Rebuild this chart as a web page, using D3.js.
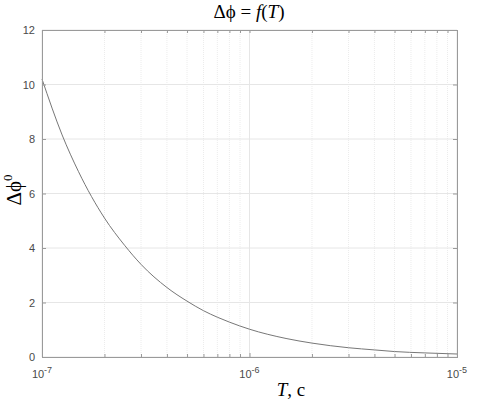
<!DOCTYPE html>
<html>
<head>
<meta charset="utf-8">
<script src="https://cdn.jsdelivr.net/npm/d3@7"></script>
<style>
  body { margin: 0; background: #fff; }
  .tick text { font-family: "Liberation Sans", Arial, sans-serif; font-size: 11px; fill: #4a4a4a; }
  .serif { font-family: "Liberation Serif", "Times New Roman", serif; fill: #000; }
</style>
</head>
<body>
<div id="chart"></div>
<script>
// data
var periods = [1e-7, 1.25e-7, 1.5e-7, 2e-7, 2.5e-7, 3e-7, 4e-7, 5e-7, 6e-7, 7e-7, 8e-7,
               1e-6, 1.5e-6, 2e-6, 3e-6, 4e-6, 5e-6, 7e-6, 1e-5];
var phaseShift = [10.2, 8.15, 6.8, 5.1, 4.1, 3.4, 2.55, 2.05, 1.7, 1.46, 1.28,
                  1.02, 0.68, 0.51, 0.34, 0.26, 0.2, 0.15, 0.11];
var yTicks = [0, 2, 4, 6, 8, 10, 12];
var xMajor = [1e-7, 1e-6, 1e-5];
var xExp = ["-7", "-6", "-5"];

makePlot();

function makePlot() {
    var svgWidth = 482, svgHeight = 403;
    var margin = { top: 30, right: 25, bottom: 46, left: 42 };
    var chart_width = svgWidth - margin.left - margin.right;
    var chart_height = svgHeight - margin.top - margin.bottom;

    var svg = d3.select("#chart").append("svg")
        .attr("width", svgWidth)
        .attr("height", svgHeight);

    var chartGroup = svg.append("g")
        .attr("transform", `translate(${margin.left}, ${margin.top})`);

    var xScale = d3.scaleLog().domain([1e-7, 1e-5]).range([0, chart_width]);
    var yScale = d3.scaleLinear().domain([0, 12]).range([chart_height, 0]);

    // minor ticks 2..9 per decade
    var xMinor = [];
    [1e-7, 1e-6].forEach(function(d) {
        for (var k = 2; k <= 9; k++) xMinor.push(d * k);
    });

    // grid
    chartGroup.append("g").selectAll("line").data(xMinor).enter().append("line")
        .attr("x1", d => xScale(d)).attr("x2", d => xScale(d))
        .attr("y1", 0).attr("y2", chart_height)
        .attr("stroke", "#ececec").attr("stroke-dasharray", "1,1");
    chartGroup.append("g").selectAll("line").data(xMajor).enter().append("line")
        .attr("x1", d => xScale(d)).attr("x2", d => xScale(d))
        .attr("y1", 0).attr("y2", chart_height)
        .attr("stroke", "#e6e6e6");
    chartGroup.append("g").selectAll("line").data(yTicks).enter().append("line")
        .attr("x1", 0).attr("x2", chart_width)
        .attr("y1", d => yScale(d)).attr("y2", d => yScale(d))
        .attr("stroke", "#e6e6e6");

    // curve
    var line = d3.line()
        .x((d, i) => xScale(periods[i]))
        .y(d => yScale(d))
        .curve(d3.curveMonotoneX);
    chartGroup.append("path")
        .datum(phaseShift)
        .attr("d", line)
        .attr("fill", "none")
        .attr("stroke", "#777")
        .attr("stroke-width", 1);

    // axes
    var axisColor = "#9a9a9a";
    var bottomAxis = d3.axisBottom(xScale).tickValues(xMajor).tickSize(-4).tickFormat("");
    var bottomMinor = d3.axisBottom(xScale).tickValues(xMinor).tickSize(-3).tickFormat("");
    var topAxis = d3.axisTop(xScale).tickValues(xMajor.concat(xMinor)).tickSize(-3).tickFormat("");
    var leftAxis = d3.axisLeft(yScale).tickValues(yTicks).tickSize(-4).tickPadding(8);
    var rightAxis = d3.axisRight(yScale).tickValues(yTicks).tickSize(-4).tickFormat("");

    var gb = chartGroup.append("g").attr("transform", `translate(0, ${chart_height})`).call(bottomAxis);
    var gbm = chartGroup.append("g").attr("transform", `translate(0, ${chart_height})`).call(bottomMinor);
    var gt = chartGroup.append("g").call(topAxis);
    var gl = chartGroup.append("g").call(leftAxis);
    var gr = chartGroup.append("g").attr("transform", `translate(${chart_width}, 0)`).call(rightAxis);
    [gb, gbm, gt, gl, gr].forEach(function(g) {
        g.selectAll("path, line").attr("stroke", axisColor);
    });
    gl.selectAll(".tick text").attr("x", -7);

    // x tick labels 10^n
    var xl = chartGroup.append("g").selectAll("text").data(xMajor).enter().append("text")
        .attr("class", "tick")
        .attr("x", d => xScale(d))
        .attr("y", chart_height + 21)
        .attr("text-anchor", "middle")
        .style("font-family", "'Liberation Sans', Arial, sans-serif")
        .style("font-size", "11px")
        .style("fill", "#4a4a4a");
    xl.append("tspan").text("10");
    xl.append("tspan").attr("dy", -5).style("font-size", "9px").text((d, i) => xExp[i]);

    // title
    var title = svg.append("text").attr("class", "serif")
        .attr("x", 249).attr("y", 18)
        .attr("text-anchor", "middle")
        .style("font-size", "19px");
    title.append("tspan").text("Δϕ = ");
    title.append("tspan").style("font-style", "italic").text("f");
    title.append("tspan").text("(");
    title.append("tspan").style("font-style", "italic").text("T");
    title.append("tspan").text(")");

    // x label
    var xLabel = svg.append("text").attr("class", "serif")
        .attr("x", 291).attr("y", 396)
        .attr("text-anchor", "middle")
        .style("font-size", "19px");
    xLabel.append("tspan").style("font-style", "italic").text("T");
    xLabel.append("tspan").text(", c");

    // y label
    var yLabel = svg.append("text").attr("class", "serif")
        .attr("transform", "translate(21, 190) rotate(-90)")
        .attr("text-anchor", "middle")
        .style("font-size", "21px");
    yLabel.append("tspan").text("Δϕ");
    yLabel.append("tspan").attr("dy", -9).style("font-size", "13px").text("0");
}
</script>
</body>
</html>
